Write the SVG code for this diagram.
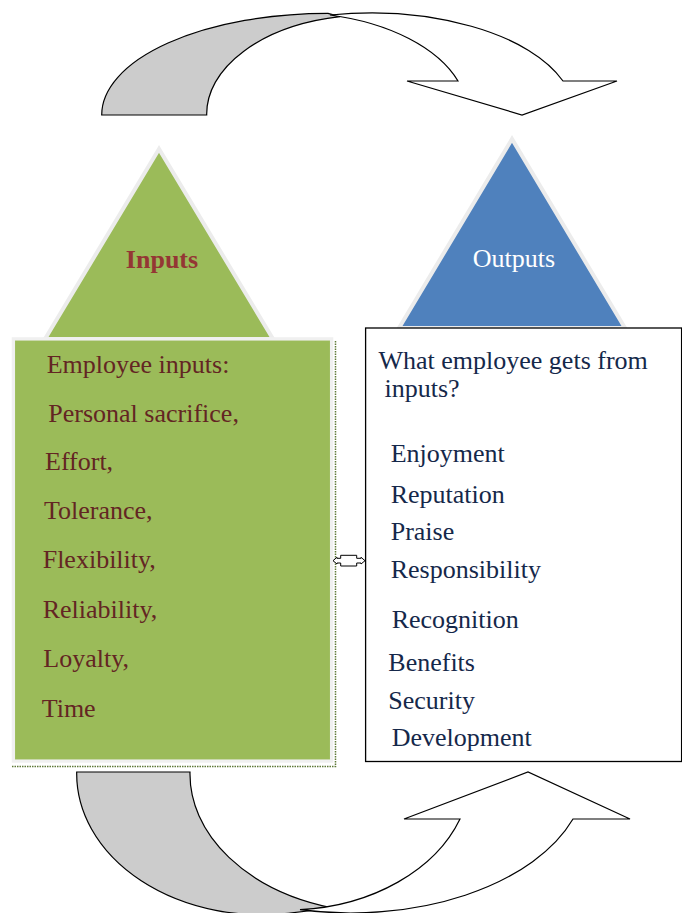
<svg xmlns="http://www.w3.org/2000/svg" width="682" height="913" viewBox="0 0 682 913">
<style>
  .band { stroke: #000; stroke-width: 1.2; stroke-linejoin: miter; }
  .back { fill: #cccccc; }
  .front { fill: #ffffff; }
  .t { font-family: "Liberation Serif", "Times New Roman", serif; font-size: 26px; }
  .in { fill: #632523; }
  .out { fill: #15284a; }
  .tri { stroke: #ececec; stroke-width: 4; stroke-linejoin: miter; }
</style>
<rect width="682" height="913" fill="#ffffff"/>

<g id="cycle-top">
  <path class="band back" d="M101.7,115 A226,101.7 0 0 1 328,13.3 L340,16.7 A163.3,99 0 0 0 206.7,115 Z"/>
  <path class="band front" d="M330,15 A204,101.7 0 0 1 563,81 L617,81 L522,115 L407,81 L458,81 A178,102 0 0 0 330,15 Z"/>
</g>

<g id="inputs">
  <polygon class="tri" points="159,149 45,339 273,339" fill="#9bbb59"/>
  <text class="t" x="162" y="267.5" text-anchor="middle" font-weight="bold" fill="#943634">Inputs</text>
</g>

<g id="outputs">
  <polygon class="tri" points="512,139 399,328 625,328" fill="#4f81bd"/>
  <text class="t" x="514" y="266.5" text-anchor="middle" fill="#ffffff">Outputs</text>
</g>

<g id="inputs-box">
  <path d="M335.5,341 V766.5 H12" fill="none" stroke="#5f7a38" stroke-width="1.5" stroke-dasharray="1.5 1"/>
  <rect x="13.4" y="338.9" width="318.2" height="422.2" fill="#9bbb59" stroke="#f0f0f0" stroke-width="3.3"/>
  <text class="t in" x="46.7" y="372.7">Employee inputs:</text>
  <text class="t in" x="48.3" y="421.7">Personal sacrifice,</text>
  <text class="t in" x="45" y="470">Effort,</text>
  <text class="t in" x="44" y="519.3">Tolerance,</text>
  <text class="t in" x="42.7" y="568.3">Flexibility,</text>
  <text class="t in" x="42.7" y="617.7">Reliability,</text>
  <text class="t in" x="43.3" y="666.7">Loyalty,</text>
  <text class="t in" x="41.7" y="716.7">Time</text>
</g>

<g id="outputs-box">
  <rect x="365.6" y="328" width="316" height="433.5" fill="#ffffff" stroke="#000000" stroke-width="1.3"/>
  <text class="t out" x="378.5" y="369.3">What employee gets from</text>
  <text class="t out" x="384.5" y="396.5">inputs?</text>
  <text class="t out" x="390.7" y="461.7">Enjoyment</text>
  <text class="t out" x="390.7" y="502.7">Reputation</text>
  <text class="t out" x="390.7" y="540">Praise</text>
  <text class="t out" x="390.7" y="578.3">Responsibility</text>
  <text class="t out" x="391.7" y="628.3">Recognition</text>
  <text class="t out" x="388.3" y="670.7">Benefits</text>
  <text class="t out" x="388.3" y="709.3">Security</text>
  <text class="t out" x="391.7" y="746">Development</text>
</g>

<g id="connectors">
  <path d="M333,560.7 L337,557.3 L337,558.3 L340.7,558.3 L340.7,555.3 L356.7,555.3 L356.7,558.3 L361,558.3 L361,557.3 L365,560.7 L361,564 L361,563 L356.7,563 L356.7,566 L340.7,566 L340.7,563 L337,563 L337,564 Z" fill="#ffffff" stroke="#000000" stroke-width="1"/>
</g>

<g id="cycle-bottom">
  <path class="band back" d="M76.7,772 L190,772 A195,139 0 0 0 333,908 L292,912.8 A185,141 0 0 1 76.7,772 Z"/>
  <path class="band front" d="M300,909.7 A236,141 0 0 0 573,819 L630,819 L528,772 L404,819 L460,819 A184,138 0 0 1 300,909.7 Z"/>
</g>
</svg>
